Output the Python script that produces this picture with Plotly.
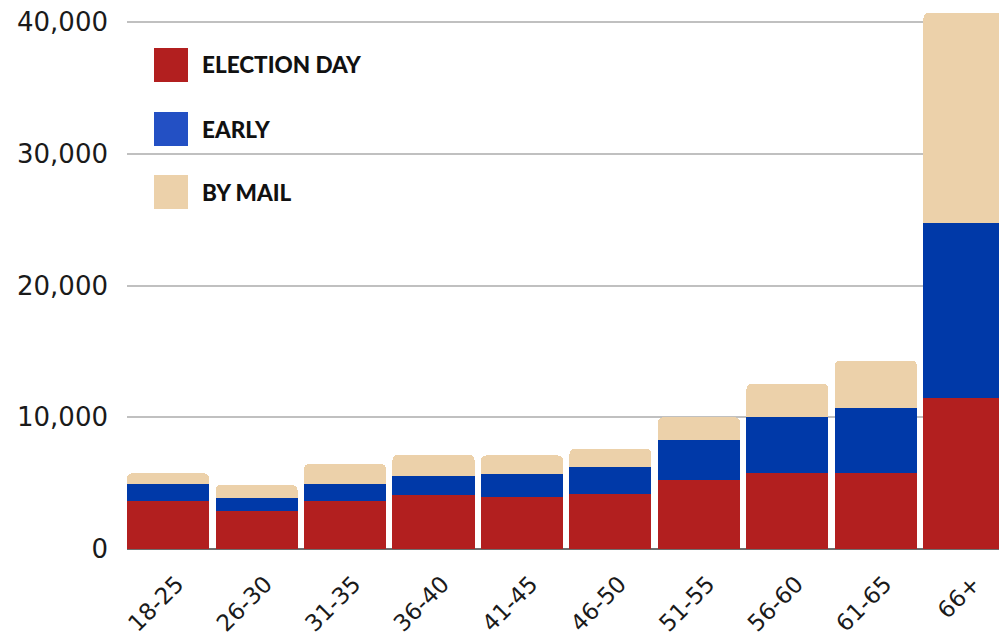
import plotly.graph_objects as go

categories = ["18-25", "26-30", "31-35", "36-40", "41-45", "46-50", "51-55", "56-60", "61-65", "66+"]
election_day = [3650, 2900, 3650, 4100, 3950, 4200, 5250, 5750, 5750, 11450]
early = [1300, 970, 1300, 1450, 1750, 2000, 3000, 4300, 4950, 13300]
by_mail = [800, 980, 1500, 1600, 1400, 1400, 1750, 2500, 3600, 15950]
series_names = ["ELECTION DAY", "EARLY", "BY MAIL"]
bar_colors = ["#B21F1F", "#0039A8", "#ECD1AA"]
legend_colors = ["#B21F1F", "#2350C4", "#ECD1AA"]
y_ticks = [0, 10000, 20000, 30000, 40000]

fig = go.Figure()
for name, vals, col in zip(series_names, [election_day, early, by_mail], bar_colors):
    fig.add_trace(go.Bar(x=list(range(len(categories))), y=vals, name=name,
                         marker=dict(color=col, line=dict(width=0)), showlegend=False))

# manual legend
legend_y = [65, 129, 192]
for name, col, yc in zip(series_names, legend_colors, legend_y):
    fig.add_shape(type="rect", xref="paper", yref="paper",
                  x0=(154 - 127) / 872, x1=(188 - 127) / 872,
                  y0=(549 - (yc + 17)) / 549, y1=(549 - (yc - 17)) / 549,
                  fillcolor=col, line=dict(width=0), layer="above")
    fig.add_annotation(xref="paper", yref="paper", x=(200 - 127) / 872, y=(549 - yc) / 549,
                       text=name, showarrow=False, xanchor="left", yanchor="middle",
                       font=dict(family="Lato", size=22.5, color="#111111", weight=900))

fig.update_layout(
    width=999, height=636,
    margin=dict(l=127, r=0, t=0, b=87),
    barmode="stack", bargap=0.0734, barcornerradius=5,
    paper_bgcolor="white", plot_bgcolor="white",
    xaxis=dict(range=[-0.4633, 9.39], tickmode="array", tickvals=list(range(len(categories))),
               ticktext=categories, tickangle=-45, showgrid=False, zeroline=False,
               showline=False, ticks="", ticklabelstandoff=16, ticklabelshift=9,
               tickfont=dict(family="DejaVu Sans", size=23, color="#1a1a1a")),
    yaxis=dict(range=[0, 41670], tickmode="array", tickvals=y_ticks,
               ticktext=[f"{v:,}" for v in y_ticks], showgrid=True, gridcolor="#c0c0c0",
               gridwidth=2, zeroline=True, zerolinecolor="#6e6e6e", zerolinewidth=2,
               showline=False, ticks="", ticklabelstandoff=18,
               tickfont=dict(family="DejaVu Sans", size=26, color="#1a1a1a")),
)

fig.write_html("out.html", config={"displayModeBar": False},
               post_script="document.body.style.margin='0';document.body.style.padding='0';")
